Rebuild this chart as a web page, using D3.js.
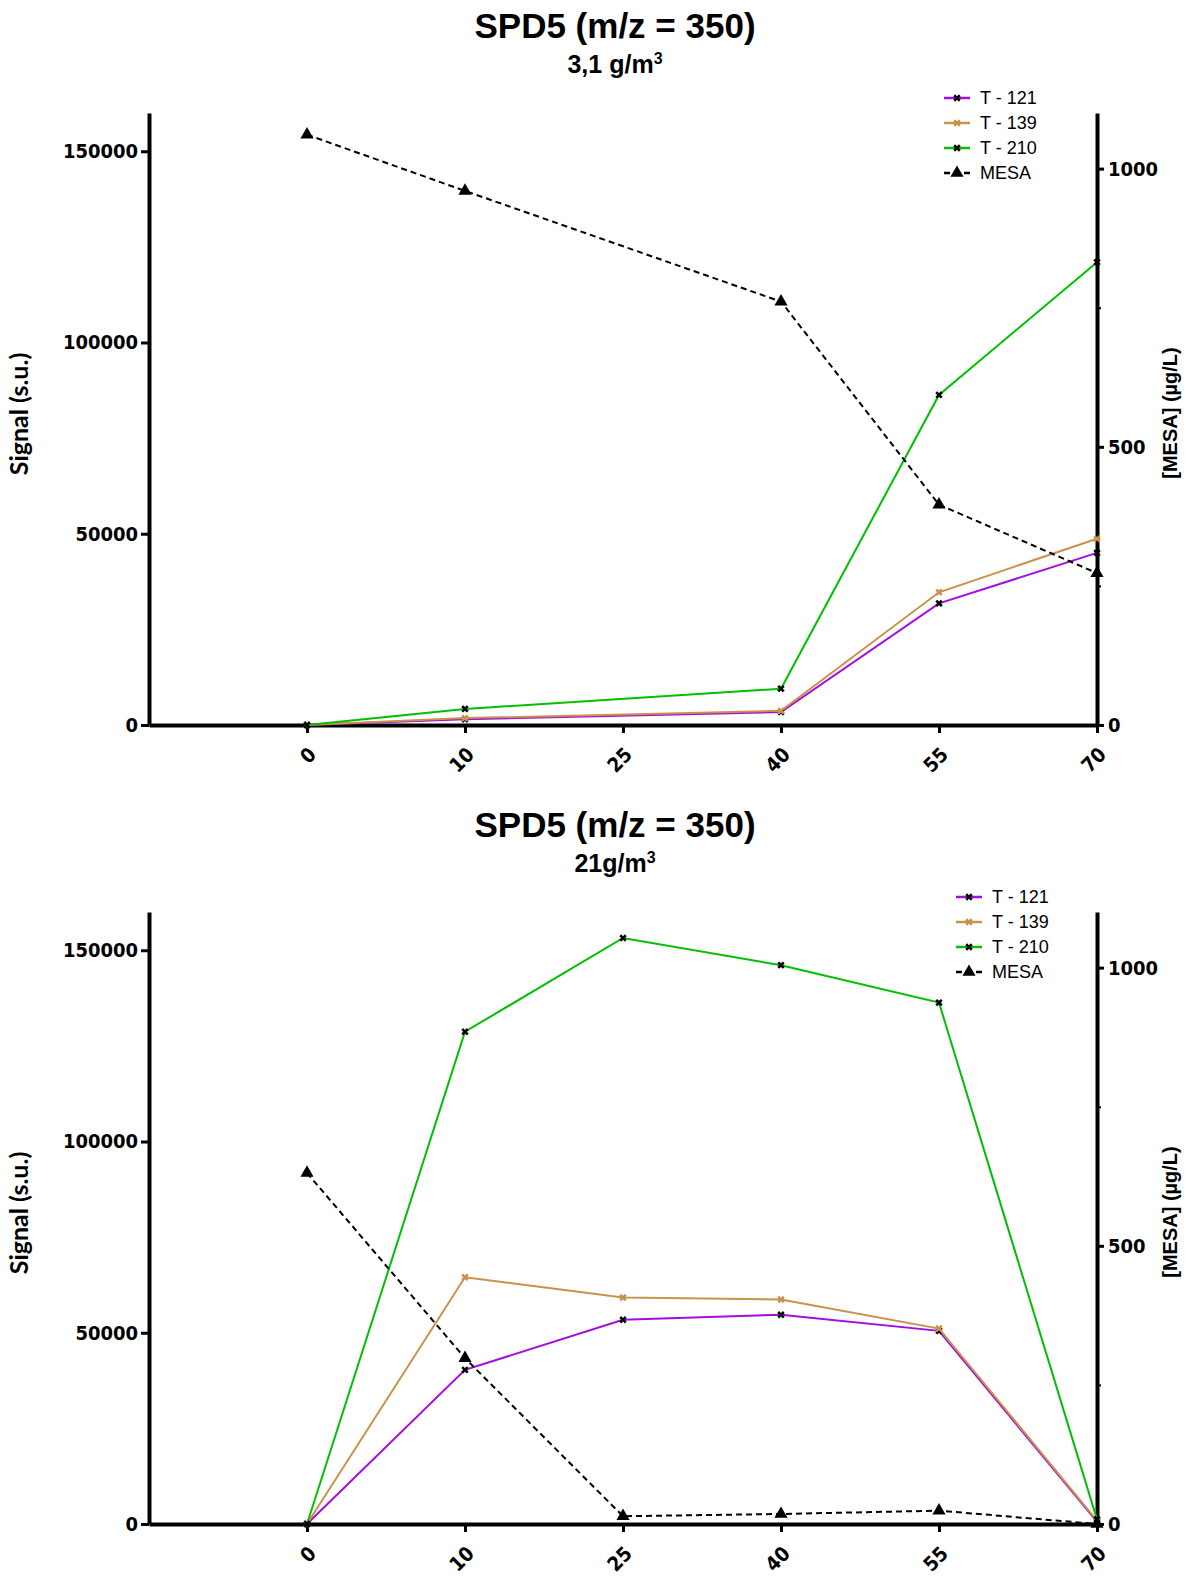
<!DOCTYPE html>
<html><head><meta charset="utf-8">
<script src="https://cdn.jsdelivr.net/npm/d3@7"></script>
<style>
body{margin:0;background:#fff;}
svg{display:block;}
</style></head>
<body>
<script>
// ---------- DATA ----------
const categories = ["0","10","25","40","55","70"];
const leftTicks = [0, 50000, 100000, 150000];
const rightTicks = [0, 500, 1000];
const rightMinorTicks = [250, 750];
const seriesNames = ["T - 121", "T - 139", "T - 210", "MESA"];

// Panel 1 : 3,1 g/m3
const p1_T121 = [0, 1500, null, 3400, 31800, 45000];
const p1_T139 = [0, 1800, null, 3700, 34700, 48700];
const p1_T210 = [0, 4200, null, 9500, 86300, 121000];
const p1_MESA = [1061, 960, null, 761, 396, 273];

// Panel 2 : 21 g/m3
const p2_T121 = [0, 40300, 53400, 54700, 50500, 600];
const p2_T139 = [0, 64500, 59200, 58700, 51100, 900];
const p2_T210 = [0, 128700, 153200, 146100, 136300, 1200];
const p2_MESA = [631, 298, 14, 18, 24, 0];

const titles = ["SPD5 (m/z = 350)", "SPD5 (m/z = 350)"];
const subtitles = [["3,1 g/m", "3"], ["21g/m", "3"]];

// ---------- STYLE ----------
const colors = ["#a50ce0", "#c8924c", "#00c000", "#000000"];
const W = 1190, H = 1578;
const tickFamily = "'DejaVu Sans Condensed', 'DejaVu Sans', Verdana, sans-serif";

const svg = d3.select("body").append("svg").attr("width", W).attr("height", H);

function panel(yOff, titleIdx, data, legendX) {
  const g = svg.append("g").attr("transform", `translate(0,${yOff})`);
  const left = 149, right = 1097, top = 113, bottom = 725;
  const x = d3.scalePoint().domain(["", ...categories]).range([left, right]);
  const yL = d3.scaleLinear().domain([0, 160000]).range([bottom, top]);
  const yR = d3.scaleLinear().domain([0, 1100]).range([bottom, top]);

  // Title
  g.append("text").attr("x", 615).attr("y", 38).attr("text-anchor", "middle")
    .style("font-family", "'Liberation Sans', Arial, sans-serif").style("font-weight", "bold")
    .style("font-size", "35px").text(titles[titleIdx]);
  const st = g.append("text").attr("x", 615).attr("y", 73).attr("text-anchor", "middle")
    .style("font-family", "'Liberation Sans', Arial, sans-serif").style("font-weight", "bold")
    .style("font-size", "25px");
  st.append("tspan").text(subtitles[titleIdx][0]);
  st.append("tspan").attr("dy", -9).style("font-size", "16px").text(subtitles[titleIdx][1]);

  // Axes
  const tickFont = (sel) => sel.selectAll("text")
    .style("font-family", tickFamily).style("font-stretch", "condensed").style("font-weight", "bold")
    .style("font-size", "20px").attr("fill", "#000");
  const styleAxis = (sel) => {
    sel.select(".domain").attr("stroke", "#000").attr("stroke-width", 4);
    sel.selectAll(".tick line").attr("stroke", "#000").attr("stroke-width", 3);
  };

  const axL = g.append("g").attr("transform", `translate(${left},0)`)
    .call(d3.axisLeft(yL).tickValues(leftTicks).tickSize(8).tickSizeOuter(0).tickPadding(3).tickFormat(d3.format("d")));
  styleAxis(axL); tickFont(axL);

  const axR = g.append("g").attr("transform", `translate(${right},0)`)
    .call(d3.axisRight(yR).tickValues(rightTicks).tickSize(7).tickSizeOuter(0).tickPadding(4).tickFormat(d3.format("d")));
  styleAxis(axR); tickFont(axR);
  const axRm = g.append("g").attr("transform", `translate(${right},0)`)
    .call(d3.axisRight(yR).tickValues(rightMinorTicks).tickSize(4).tickSizeOuter(0).tickFormat(""));
  axRm.select(".domain").remove();
  axRm.selectAll(".tick line").attr("stroke", "#000").attr("stroke-width", 2);

  const axB = g.append("g").attr("transform", `translate(0,${bottom})`)
    .call(d3.axisBottom(x).tickValues(categories).tickSize(8).tickSizeOuter(0));
  styleAxis(axB); tickFont(axB);
  axB.selectAll(".tick text")
    .attr("text-anchor", "end").attr("x", 0).attr("y", 0).attr("dy", "0.35em")
    .attr("transform", "translate(5,26) rotate(-45)");

  // Axis titles
  g.append("text").attr("transform", `translate(28,414) rotate(-90)`)
    .attr("text-anchor", "middle")
    .style("font-family", "Lato, 'Open Sans', sans-serif").style("font-weight", "bold")
    .style("font-size", "25px").text("Signal (s.u.)");
  g.append("text").attr("transform", `translate(1177,413) rotate(-90)`)
    .attr("text-anchor", "middle")
    .style("font-family", "'Liberation Sans', Arial, sans-serif").style("font-weight", "bold")
    .style("font-size", "20px").text("[MESA] (µg/L)");

  // Series
  const crossSym = d3.symbol().type(d3.symbolCross).size(34);
  const triSym = d3.symbol().type(d3.symbolTriangle).size(75);

  data.forEach((vals, i) => {
    const isMesa = i === 3;
    const ys = isMesa ? yR : yL;
    const pts = categories.map((c, k) => ({ c, v: vals[k] })).filter(d => d.v !== null);
    const line = d3.line().x(d => x(d.c)).y(d => ys(d.v));
    g.append("path").datum(pts).attr("d", line).attr("fill", "none")
      .attr("stroke", colors[i]).attr("stroke-width", 2)
      .attr("stroke-dasharray", isMesa ? "6,4" : null);
    g.selectAll(null).data(pts).enter().append("path")
      .attr("d", isMesa ? triSym : crossSym)
      .attr("transform", d => `translate(${x(d.c)},${ys(d.v)})` + (isMesa ? "" : " rotate(45)"))
      .attr("fill", i === 1 ? colors[1] : "#000");
  });

  // Legend
  seriesNames.forEach((name, i) => {
    const ly = 98 + i * 25;
    const isMesa = i === 3;
    g.append("line").attr("x1", legendX).attr("x2", legendX + 26).attr("y1", ly).attr("y2", ly)
      .attr("stroke", colors[i]).attr("stroke-width", 2.5)
      .attr("stroke-dasharray", isMesa ? "6,4" : null);
    g.append("path").attr("d", (isMesa ? triSym : crossSym)())
      .attr("transform", `translate(${legendX + 13},${ly})` + (isMesa ? "" : " rotate(45)"))
      .attr("fill", i === 1 ? colors[1] : "#000");
    g.append("text").attr("x", legendX + 36).attr("y", ly).attr("dy", "0.35em")
      .style("font-family", "'Liberation Sans', Arial, sans-serif")
      .style("font-size", "18px").text(name);
  });
}

panel(0, 0, [p1_T121, p1_T139, p1_T210, p1_MESA], 944);
panel(799, 1, [p2_T121, p2_T139, p2_T210, p2_MESA], 956);
</script>
</body></html>
